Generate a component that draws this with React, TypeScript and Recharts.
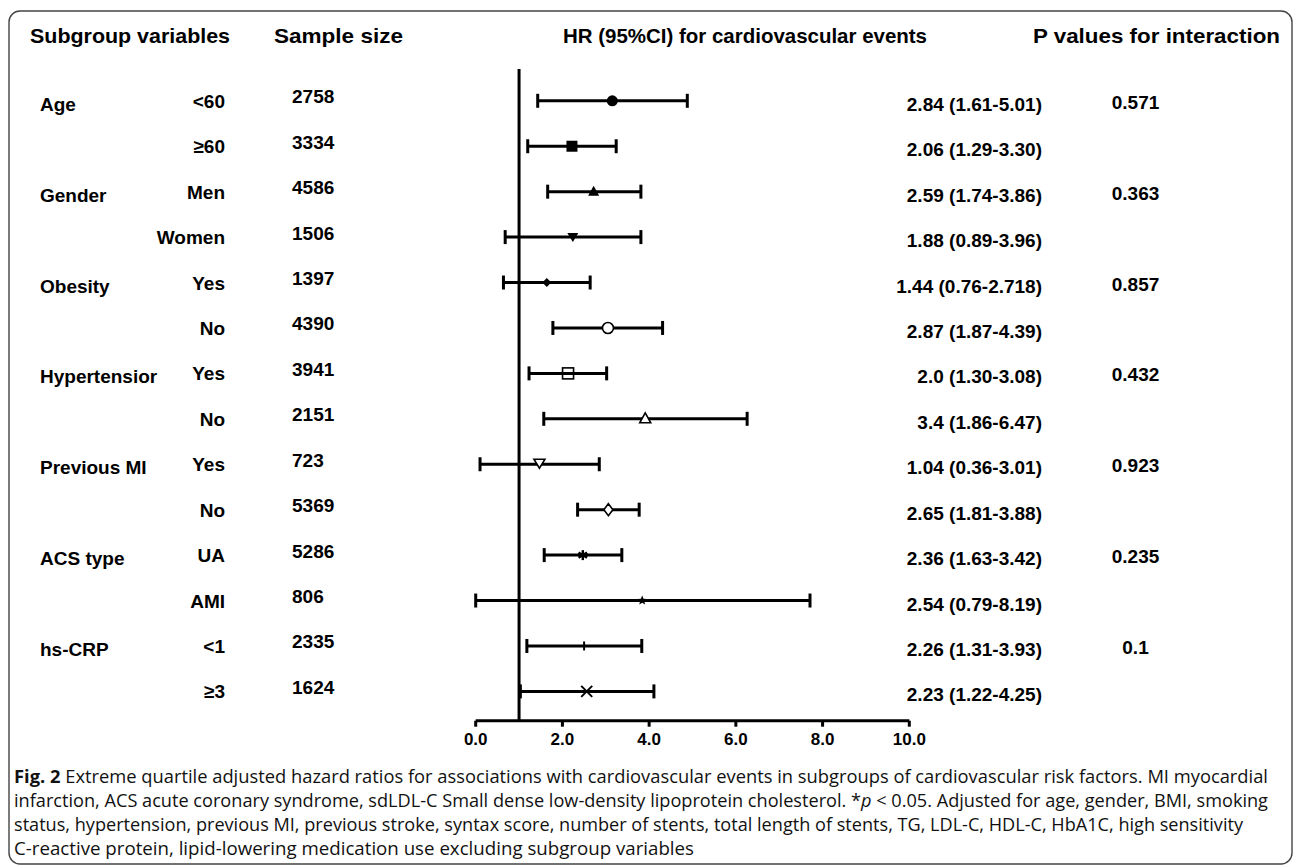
import React from 'react';
import { ScatterChart, Scatter, XAxis, YAxis, ErrorBar, ReferenceLine } from 'recharts';

// ---------- data ----------
const groupLabels = ['Age', '', 'Gender', '', 'Obesity', '', 'Hypertensior', '', 'Previous MI', '', 'ACS type', '', 'hs-CRP', ''];
const subgroupLabels = ['<60', '≥60', 'Men', 'Women', 'Yes', 'No', 'Yes', 'No', 'Yes', 'No', 'UA', 'AMI', '<1', '≥3'];
const sampleSizes = ['2758', '3334', '4586', '1506', '1397', '4390', '3941', '2151', '723', '5369', '5286', '806', '2335', '1624'];
const hrLabels = [
  '2.84 (1.61-5.01)', '2.06 (1.29-3.30)', '2.59 (1.74-3.86)', '1.88 (0.89-3.96)', '1.44 (0.76-2.718)',
  '2.87 (1.87-4.39)', '2.0 (1.30-3.08)', '3.4 (1.86-6.47)', '1.04 (0.36-3.01)', '2.65 (1.81-3.88)',
  '2.36 (1.63-3.42)', '2.54 (0.79-8.19)', '2.26 (1.31-3.93)', '2.23 (1.22-4.25)',
];
const pValues = ['0.571', '', '0.363', '', '0.857', '', '0.432', '', '0.923', '', '0.235', '', '0.1', ''];
// plotted positions
const hrPoint = [3.15, 2.22, 2.72, 2.24, 1.64, 3.05, 2.13, 3.91, 1.47, 3.06, 2.47, 3.84, 2.5, 2.56];
const ciLow = [1.43, 1.2, 1.66, 0.68, 0.64, 1.78, 1.23, 1.57, 0.1, 2.35, 1.58, 0.0, 1.18, 1.03];
const ciHigh = [4.88, 3.24, 3.81, 3.81, 2.64, 4.31, 3.02, 6.26, 2.85, 3.77, 3.37, 7.71, 3.83, 4.11];
const xTicks = [0, 2, 4, 6, 8, 10];
const referenceHR = 1;

const headers = ['Subgroup variables', 'Sample size', 'HR (95%CI) for cardiovascular events', 'P values for interaction'];
const captionLines = [
  'Extreme quartile adjusted hazard ratios for associations with cardiovascular events in subgroups of cardiovascular risk factors. MI myocardial',
  'infarction, ACS acute coronary syndrome, sdLDL-C Small dense low-density lipoprotein cholesterol. *',
  ' < 0.05. Adjusted for age, gender, BMI, smoking',
  'status, hypertension, previous MI, previous stroke, syntax score, number of stents, total length of stents, TG, LDL-C, HDL-C, HbA1C, high sensitivity',
  'C-reactive protein, lipid-lowering medication use excluding subgroup variables',
];

const rows = hrPoint.map((hr, i) => ({ row: i + 1, hr, err: [hr - ciLow[i], ciHigh[i] - hr] }));
const rowTicks = rows.map((r) => r.row);

// ---------- styles ----------
const FONT = "'Liberation Sans', Arial, Helvetica, sans-serif";
const CAP_FONT = "'Open Sans', 'Noto Sans', sans-serif";
const markerKinds = [
  'circle', 'square', 'triangle', 'triangleDown', 'diamond',
  'circleOpen', 'squareOpen', 'triangleOpen', 'triangleDownOpen', 'diamondOpen',
  'asterisk', 'star', 'plus', 'cross',
];

function Marker(props: any) {
  const { cx, cy, payload } = props;
  if (cx == null || cy == null) return <g />;
  const kind = markerKinds[(payload?.row ?? 1) - 1];
  const k = '#000';
  switch (kind) {
    case 'circle':
      return <circle cx={cx} cy={cy} r={5.5} fill={k} />;
    case 'square':
      return <rect x={cx - 5.5} y={cy - 5.5} width={11} height={11} fill={k} />;
    case 'triangle':
      return <polygon points={`${cx},${cy - 6} ${cx - 5.5},${cy + 4} ${cx + 5.5},${cy + 4}`} fill={k} />;
    case 'triangleDown':
      return <polygon points={`${cx - 5.5},${cy - 4} ${cx + 5.5},${cy - 4} ${cx},${cy + 5}`} fill={k} />;
    case 'diamond':
      return <polygon points={`${cx},${cy - 4.5} ${cx + 4.5},${cy} ${cx},${cy + 4.5} ${cx - 4.5},${cy}`} fill={k} />;
    case 'circleOpen':
      return <circle cx={cx} cy={cy} r={5.5} fill="#fff" stroke={k} strokeWidth={1.6} />;
    case 'squareOpen':
      return <rect x={cx - 5.5} y={cy - 5.5} width={11} height={11} fill="none" stroke={k} strokeWidth={1.6} />;
    case 'triangleOpen':
      return <polygon points={`${cx},${cy - 6} ${cx - 5.5},${cy + 4} ${cx + 5.5},${cy + 4}`} fill="#fff" stroke={k} strokeWidth={1.6} />;
    case 'triangleDownOpen':
      return <polygon points={`${cx - 5.5},${cy - 5} ${cx + 5.5},${cy - 5} ${cx},${cy + 4}`} fill="#fff" stroke={k} strokeWidth={1.6} />;
    case 'diamondOpen':
      return <polygon points={`${cx},${cy - 6} ${cx + 4.5},${cy} ${cx},${cy + 6} ${cx - 4.5},${cy}`} fill="#fff" stroke={k} strokeWidth={1.6} />;
    case 'asterisk':
      return (
        <g stroke={k} strokeWidth={2.4}>
          <line x1={cx} y1={cy - 5} x2={cx} y2={cy + 5} />
          <line x1={cx - 4.3} y1={cy - 2.5} x2={cx + 4.3} y2={cy + 2.5} />
          <line x1={cx - 4.3} y1={cy + 2.5} x2={cx + 4.3} y2={cy - 2.5} />
        </g>
      );
    case 'star': {
      const pts: string[] = [];
      for (let j = 0; j < 10; j++) {
        const r = j % 2 === 0 ? 5 : 2.2;
        const a = -Math.PI / 2 + (j * Math.PI) / 5;
        pts.push(`${cx + r * Math.cos(a)},${cy + r * Math.sin(a)}`);
      }
      return <polygon points={pts.join(' ')} fill={k} />;
    }
    case 'plus':
      return <line x1={cx} y1={cy - 4.5} x2={cx} y2={cy + 4.5} stroke={k} strokeWidth={2} />;
    case 'cross':
      return (
        <g stroke={k} strokeWidth={2}>
          <line x1={cx - 5.5} y1={cy - 5.5} x2={cx + 5.5} y2={cy + 5.5} />
          <line x1={cx - 5.5} y1={cy + 5.5} x2={cx + 5.5} y2={cy - 5.5} />
        </g>
      );
    default:
      return <g />;
  }
}

function NoShape() {
  return <g />;
}

function RowTick(props: any) {
  const { y, payload } = props;
  const i = Math.round(payload.value) - 1;
  const t = { fontFamily: FONT, fontWeight: 700, fontSize: 19, fill: '#000' } as any;
  return (
    <g>
      {groupLabels[i] ? (
        <text x={40} y={y + 10} {...t}>{groupLabels[i]}</text>
      ) : null}
      <text x={225} y={y + 7} textAnchor="end" {...t}>{subgroupLabels[i]}</text>
      <text x={292} y={y + 2.5} {...t}>{sampleSizes[i]}</text>
      <text x={1042} y={y + 10} textAnchor="end" {...t}>{hrLabels[i]}</text>
      {pValues[i] ? (
        <text x={1135.5} y={y + 8} textAnchor="middle" {...t}>{pValues[i]}</text>
      ) : null}
    </g>
  );
}

export default function App() {
  const hStyle = { fontFamily: FONT, fontWeight: 700, fontSize: 21, fill: '#000' } as any;
  const cStyle = { fontFamily: CAP_FONT, fontSize: 18, fill: '#111' } as any;
  return (
    <div style={{ position: 'absolute', left: 0, top: 0, width: 1296, height: 866, background: '#fff' }}>
      <ScatterChart width={1296} height={866} margin={{ top: 69, right: 386.7, bottom: 115.3, left: 474.7 }}>
        <XAxis
          type="number"
          dataKey="hr"
          domain={[0, 10]}
          ticks={xTicks}
          interval={0}
          height={30}
          tickFormatter={(v: number) => v.toFixed(1)}
          axisLine={{ stroke: '#000', strokeWidth: 3 }}
          tickLine={{ stroke: '#000', strokeWidth: 3 }}
          tickSize={6}
          tickMargin={6}
          tick={{ fill: '#000', fontFamily: FONT, fontWeight: 700, fontSize: 17 }}
        />
        <YAxis
          type="number"
          dataKey="row"
          domain={[0.3, 14.645]}
          reversed
          ticks={rowTicks}
          interval={0}
          width={1}
          axisLine={false}
          tickLine={false}
          tick={<RowTick />}
        />
        <ReferenceLine x={referenceHR} stroke="#000" strokeWidth={3} />
        <Scatter data={rows} shape={<NoShape />} isAnimationActive={false}>
          <ErrorBar dataKey="err" direction="x" width={7} stroke="#000" strokeWidth={3} isAnimationActive={false} />
        </Scatter>
        <Scatter data={rows} shape={<Marker />} isAnimationActive={false} />
      </ScatterChart>
      <svg width={1296} height={866} style={{ position: 'absolute', left: 0, top: 0, pointerEvents: 'none' }}>
        <rect x={9} y={11} width={1283} height={853} rx={11} ry={11} fill="none" stroke="#444" strokeWidth={1.4} />
        <text x={30} y={43} textLength={200} lengthAdjust="spacingAndGlyphs" {...hStyle}>{headers[0]}</text>
        <text x={274} y={43} textLength={129} lengthAdjust="spacingAndGlyphs" {...hStyle}>{headers[1]}</text>
        <text x={563} y={43} textLength={364} lengthAdjust="spacingAndGlyphs" {...hStyle}>{headers[2]}</text>
        <text x={1033} y={43} textLength={247} lengthAdjust="spacingAndGlyphs" {...hStyle}>{headers[3]}</text>
        <text x={14} y={783} textLength={1254} lengthAdjust="spacingAndGlyphs" {...cStyle}>
          <tspan fontWeight={700}>Fig. 2</tspan>
          <tspan>{'  ' + captionLines[0]}</tspan>
        </text>
        <text x={14} y={807} textLength={1254} lengthAdjust="spacingAndGlyphs" {...cStyle}>
          <tspan>{captionLines[1]}</tspan>
          <tspan fontStyle="italic">p</tspan>
          <tspan>{captionLines[2]}</tspan>
        </text>
        <text x={14} y={831} textLength={1229} lengthAdjust="spacingAndGlyphs" {...cStyle}>{captionLines[3]}</text>
        <text x={14} y={855} textLength={680} lengthAdjust="spacingAndGlyphs" {...cStyle}>{captionLines[4]}</text>
      </svg>
    </div>
  );
}
